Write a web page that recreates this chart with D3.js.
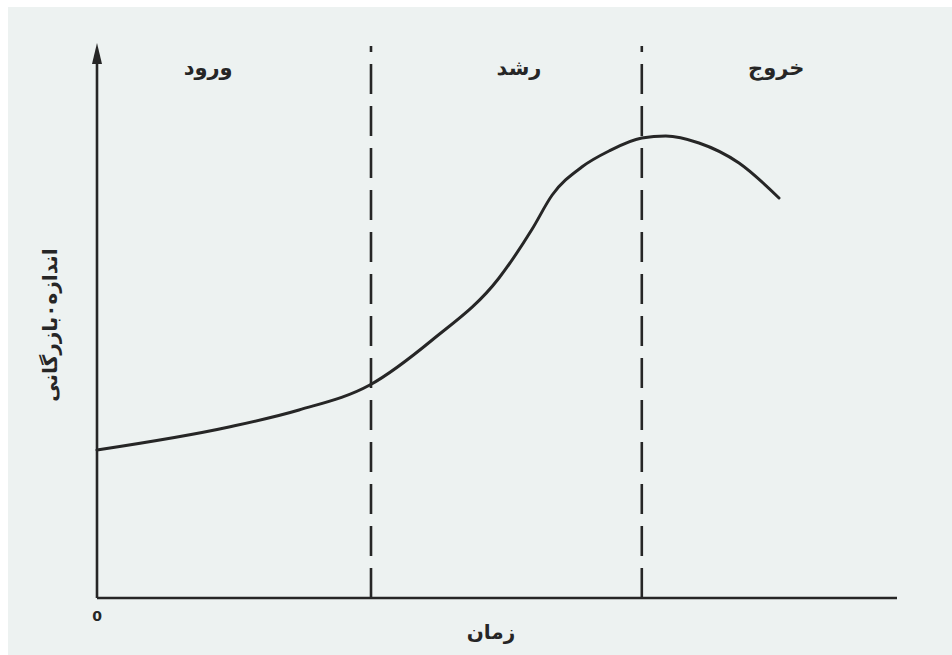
<!DOCTYPE html>
<html>
<head>
<meta charset="utf-8">
<script src="https://cdn.jsdelivr.net/npm/d3@7"></script>
<style>
	html, body { margin: 0; padding: 0; background: #fff; }
	svg { display: block; }
	text { font-family: "DejaVu Sans", sans-serif; fill: #262626; }
</style>
</head>
<body>
<svg id="fig"></svg>
<script>

// ============================================================================== //
// DATA ========================================================================= //
// ============================================================================== //

// time along x (0..100), market size along y (0..110)
var times = [0, 16.5, 25.25, 34.1, 41.9, 50.25, 54.4, 56.9, 60.6, 64, 68.1, 71.1, 75.25, 80.25, 85.25],
	sizes = [29.6, 34.2, 37.6, 42.6, 51.6, 64, 73.8, 80.6, 86.2, 89.4, 92, 92.4, 91, 87, 80];

var phases = ["ورود", "رشد", "خروج"],
	phaseCenters = [13.9, 52.75, 84.9],
	boundaries = [34.25, 68.1];

var xLabel = "زمان",
	yLabel = "اندازه٠بازرگانی",
	originLabel = "0";

// ============================================================================== //
// SETUP ======================================================================== //
// ============================================================================== //

var width = 952,
	height = 655,
	m = [48, 54, 57, 97],
	w = width - m[1] - m[3],
	h = height - m[0] - m[2];

var svg = d3.select("#fig")
	.attr("width", width)
	.attr("height", height);

var ink = "#262626";

// scanned paper
svg.append("rect")
	.attr("x", 8)
	.attr("y", 7)
	.attr("width", width - 8)
	.attr("height", height - 7)
	.attr("fill", "#edf2f1");

var xScale = d3.scaleLinear()
	.domain([0, 100])
	.range([m[3], m[3] + 800]);

var yScale = d3.scaleLinear()
	.domain([0, 110])
	.range([height - m[2], height - m[2] - 550]);

var pts = times.map((t, i) => ({t: t, v: sizes[i]}));

// ============================================================================== //
// DRAW ========================================================================= //
// ============================================================================== //

// phase boundaries
svg.append("g")
	.selectAll("line")
	.data(boundaries)
	.enter()
	.append("line")
	.attr("x1", d => xScale(d))
	.attr("x2", d => xScale(d))
	.attr("y1", yScale(0))
	.attr("y2", 46)
	.attr("stroke", ink)
	.attr("stroke-width", 2.6)
	.attr("stroke-dasharray", "30,12");

// axes
svg.append("line")
	.attr("x1", xScale(0))
	.attr("x2", xScale(100))
	.attr("y1", yScale(0))
	.attr("y2", yScale(0))
	.attr("stroke", ink)
	.attr("stroke-width", 2.6);

svg.append("line")
	.attr("x1", xScale(0))
	.attr("x2", xScale(0))
	.attr("y1", yScale(0))
	.attr("y2", 58)
	.attr("stroke", ink)
	.attr("stroke-width", 2.6);

let ax = xScale(0);
svg.append("path")
	.attr("d", `M ${ax} 43 L ${ax + 5} 64 L ${ax - 5} 64 Z`)
	.attr("fill", ink);

// the curve
var line = d3.line()
	.x(d => xScale(d.t))
	.y(d => yScale(d.v))
	.curve(d3.curveMonotoneX);

svg.append("path")
	.datum(pts)
	.attr("d", line)
	.attr("fill", "none")
	.attr("stroke", ink)
	.attr("stroke-width", 3)
	.attr("stroke-linecap", "round");

// phase names
svg.append("g")
	.selectAll("text")
	.data(phases)
	.enter()
	.append("text")
	.attr("x", (d, i) => xScale(phaseCenters[i]))
	.attr("y", 68)
	.attr("text-anchor", "middle")
	.attr("dominant-baseline", "central")
	.attr("font-size", 21)
	.attr("font-weight", "bold")
	.text(d => d);

// axis titles
svg.append("text")
	.attr("x", 491)
	.attr("y", 632)
	.attr("text-anchor", "middle")
	.attr("dominant-baseline", "central")
	.attr("font-size", 20)
	.attr("font-weight", "bold")
	.text(xLabel);

svg.append("text")
	.attr("transform", "translate(50,325) rotate(-90)")
	.attr("text-anchor", "middle")
	.attr("dominant-baseline", "central")
	.attr("font-size", 20)
	.attr("font-weight", "bold")
	.text(yLabel);

svg.append("text")
	.attr("x", xScale(0))
	.attr("y", 616)
	.attr("text-anchor", "middle")
	.attr("dominant-baseline", "central")
	.attr("font-size", 14)
	.attr("font-weight", "bold")
	.text(originLabel);

</script>
</body>
</html>
